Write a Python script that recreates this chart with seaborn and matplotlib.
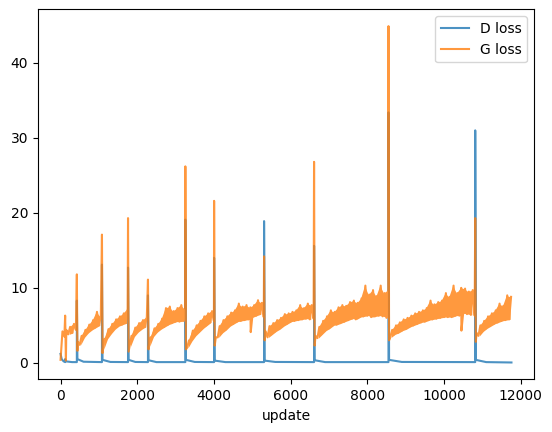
import pandas as pd
import seaborn as sns
import matplotlib
matplotlib.use("Agg")
import matplotlib.pyplot as plt
from matplotlib.colors import to_rgb

# G loss band: lower edge read at update 0, 100, 200, ... and upper edge at 50, 150, 250, ...
g_low = [0.4, 3.5, 3.8, 4.0, 4.4, 2.4, 3.4, 4.0, 4.4, 4.7,
         5.0, 1.8, 3.2, 3.9, 4.5, 4.9, 5.1, 5.3, 2.2, 3.5,
         4.1, 4.5, 4.8, 2.2, 3.5, 4.1, 4.5, 4.8, 5.1, 5.3,
         5.5, 5.5, 5.6, 2.0, 2.9, 3.6, 4.1, 4.6, 5.0, 5.4,
         5.6, 3.4, 4.0, 4.4, 4.9, 5.2, 5.5, 5.6, 5.7, 5.8,
         6.1, 6.3, 6.5, 6.1, 3.4, 3.8, 4.2, 4.5, 4.9, 5.2,
         5.5, 5.6, 5.7, 5.8, 5.9, 5.8, 5.9, 3.3, 3.8, 4.3,
         4.6, 5.0, 5.1, 5.3, 5.5, 5.7, 5.9, 5.8, 6.1, 6.2,
         6.3, 6.1, 6.2, 6.3, 6.2, 6.0, 3.4, 3.8, 4.0, 4.3,
         4.5, 4.8, 5.0, 5.2, 5.4, 5.5, 5.7, 5.8, 5.9, 6.0,
         6.1, 6.1, 6.1, 6.3, 6.3, 6.6, 6.5, 6.4, 6.3, 3.6,
         4.2, 4.6, 4.9, 5.2, 5.4, 5.6, 5.7, 5.8]
g_high = [4.2, 4.4, 4.8, 5.2, 2.8, 3.6, 4.4, 5.1, 5.7, 6.8,
          6.2, 3.2, 4.5, 5.2, 5.8, 6.2, 6.6, 7.2, 3.6, 4.7,
          5.3, 5.7, 6.1, 3.4, 4.6, 5.2, 5.9, 7.3, 7.5, 6.9,
          7.3, 7.7, 7.2, 3.0, 4.3, 5.0, 5.6, 6.2, 6.6, 6.9,
          3.4, 4.9, 5.7, 6.2, 6.7, 7.0, 7.9, 7.5, 7.7, 7.4,
          7.7, 8.35, 8.0, 4.2, 4.9, 5.3, 5.7, 6.0, 6.5, 6.6,
          6.8, 7.0, 7.7, 7.3, 7.9, 7.7, 3.6, 4.8, 5.6, 6.2,
          7.0, 6.8, 7.4, 7.7, 7.6, 8.1, 8.3, 8.0, 8.6, 10.3,
          9.1, 9.7, 8.9, 10.3, 9.3, 9.7, 4.4, 5.0, 5.4, 5.8,
          6.0, 6.3, 6.6, 6.8, 7.0, 7.3, 8.3, 7.8, 8.1, 8.3,
          9.3, 8.8, 10.3, 9.3, 10.0, 9.9, 9.5, 9.7, 4.0, 5.0,
          5.6, 6.2, 6.6, 7.0, 7.9, 7.6, 9.0, 8.8]

# restarts: spike values of both losses, then the G minimum just after
resets = [120, 425, 1080, 1760, 2280, 3255, 4005, 5308, 6612, 8553, 10815]
g_peak = [6.3, 11.8, 17.1, 19.3, 11.1, 26.2, 21.6, 14.2, 26.8, 44.9, 19.3]
d_peak = [0.5, 8.3, 13.1, 12.7, 9.0, 19.1, 14.0, 18.9, 15.6, 33.4, 31.0]
trough_update = [140, 440, 1095, 1775, 2295, 3270, 4020, 5323, 6627, 8568, 10830]
g_trough = [0.3, 1.6, 1.3, 1.5, 1.8, 1.8, 2.3, 3.0, 2.3, 3.0, 2.8]
d_trough = [0.2, 0.5, 0.4, 0.4, 0.35, 0.4, 0.3, 0.3, 0.35, 0.4, 0.4]

# single downward dips of G
dip_update = [4960, 10455]
g_dip = [4.1, 4.3]

# D loss between restarts
d_update = [0, 30, 80, 300, 600, 1300, 1950, 2500, 3500, 4300, 5600, 6900, 8900, 11100, 11760]
d_value = [1.2, 0.5, 0.2, 0.1, 0.15, 0.12, 0.12, 0.1, 0.12, 0.1, 0.12, 0.1, 0.12, 0.1, 0.05]

step = 100

g_pts = []
for i, (lo, hi) in enumerate(zip(g_low, g_high)):
    g_pts.append((i * step, lo))
    g_pts.append((i * step + step // 2, hi))
g_pts += list(zip(resets, g_peak)) + list(zip(trough_update, g_trough)) + list(zip(dip_update, g_dip))
g_pts = sorted(g_pts, key=lambda p: p[0])
g_df = pd.DataFrame(g_pts, columns=["update", "loss"])

d_pts = list(zip(d_update, d_value))
for r, pk, tu, tv in zip(resets, d_peak, trough_update, d_trough):
    d_pts += [(r, 0.1), (r, pk), (tu, tv)]
d_pts = sorted(d_pts, key=lambda p: p[0])
d_df = pd.DataFrame(d_pts, columns=["update", "loss"])

band = pd.DataFrame({"update": [i * step for i in range(len(g_low))], "low": g_low, "high": g_high})

fig = plt.figure(figsize=(5.52, 4.32), dpi=100)
ax = fig.add_axes([38 / 552, 52.7 / 432, 496 / 552, 370 / 432])

sns.lineplot(data=d_df, x="update", y="loss", ax=ax, color="C0", alpha=0.8,
             sort=False, estimator=None, label="D loss")
sns.lineplot(data=g_df, x="update", y="loss", ax=ax, color="C1", alpha=0.8,
             sort=False, estimator=None, label="G loss")

# the dense noisy part of G loss, filled per segment between restarts
band_color = tuple(0.8 * c + 0.2 for c in to_rgb("C1"))
edges = [0] + resets + [len(g_low) * step]
for a, b in zip(edges[:-1], edges[1:]):
    seg = band[(band["update"] >= a) & (band["update"] + step // 2 < b)]
    if len(seg) > 1:
        ax.fill_between(seg["update"] + step // 4, seg["low"], seg["high"],
                        color=band_color, lw=0, zorder=2.5)

ax.set_xlabel("update")
ax.set_ylabel("")
ax.legend(loc="upper right")

fig.savefig("out.png", dpi=100)
